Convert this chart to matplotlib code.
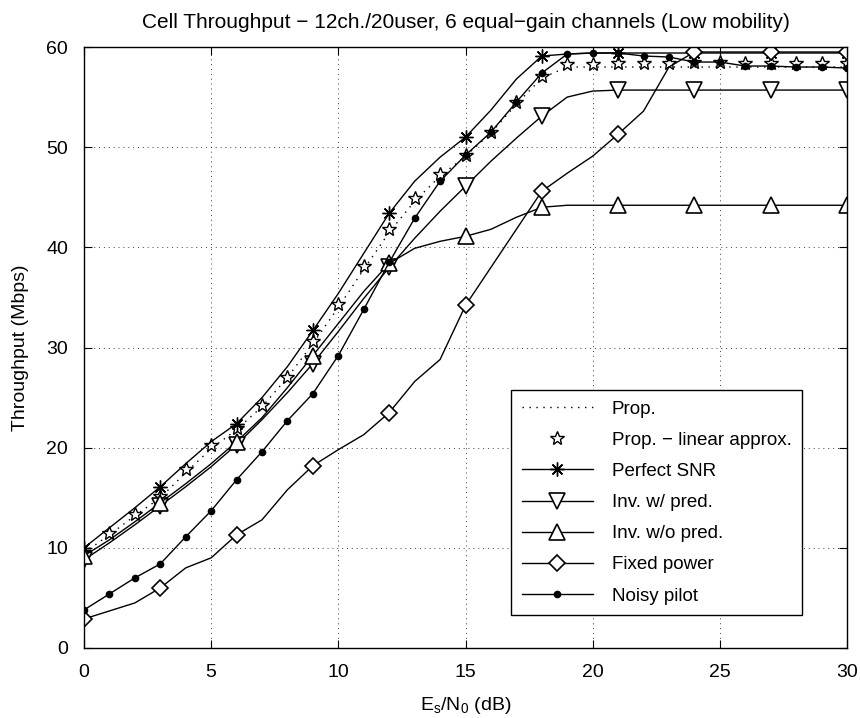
import matplotlib
matplotlib.use("Agg")
import matplotlib.pyplot as plt
import numpy as np

plt.rcParams['font.family'] = ['Liberation Sans', 'DejaVu Sans']
plt.rcParams['mathtext.default'] = 'regular'

snr_db = list(range(0, 31))

prop = [9.5, 11.3, 13.2, 15.0, 17.5, 19.9, 21.8, 24.1, 27.0, 30.4, 34.0, 37.8, 41.5,
        44.6, 47.1, 49.1, 51.4, 54.3, 56.9, 58.0, 58.0, 58.0, 58.0, 58.0, 58.0, 58.0,
        58.0, 58.0, 58.0, 58.0, 58.0]
prop_lin = [9.6, 11.5, 13.4, 15.2, 17.9, 20.3, 22.0, 24.3, 27.1, 30.6, 34.3, 38.1, 41.8,
            44.9, 47.3, 49.2, 51.5, 54.5, 57.1, 58.3, 58.3, 58.4, 58.4, 58.4, 58.5, 58.5,
            58.4, 58.4, 58.4, 58.4, 58.4]
perfect = [10.0, 12.0, 14.0, 16.1, 18.4, 20.6, 22.4, 25.0, 28.1, 31.7, 35.4, 39.4, 43.4,
           46.6, 49.0, 51.0, 53.7, 56.8, 59.1, 59.3, 59.4, 59.4, 59.4, 59.4, 59.4, 59.4,
           59.4, 59.4, 59.4, 59.4, 59.4]
inv_pred = [8.8, 10.5, 12.3, 14.2, 16.1, 18.1, 20.3, 22.8, 25.5, 28.4, 31.6, 34.9, 38.0,
            40.9, 43.6, 46.1, 48.6, 50.9, 53.1, 55.0, 55.6, 55.7, 55.7, 55.7, 55.7, 55.7,
            55.7, 55.7, 55.7, 55.7, 55.7]
inv_nopred = [9.2, 10.8, 12.6, 14.5, 16.4, 18.4, 20.6, 23.0, 26.0, 29.2, 32.4, 35.6, 38.4,
              39.9, 40.6, 41.1, 41.8, 43.0, 44.0, 44.2, 44.2, 44.2, 44.2, 44.2, 44.2, 44.2,
              44.2, 44.2, 44.2, 44.2, 44.2]
fixed = [2.9, 3.7, 4.5, 6.0, 8.0, 9.0, 11.3, 12.8, 15.8, 18.2, 19.8, 21.3, 23.5,
         26.6, 28.8, 34.2, 38.0, 41.8, 45.6, 47.4, 49.1, 51.3, 53.6, 58.0, 59.5, 59.5,
         59.5, 59.5, 59.5, 59.5, 59.5]
noisy = [3.8, 5.4, 7.0, 8.4, 11.1, 13.7, 16.8, 19.6, 22.7, 25.4, 29.2, 33.8, 38.5,
         42.9, 46.6, 49.2, 51.5, 54.5, 57.4, 59.3, 59.4, 59.4, 59.1, 59.0, 58.5, 58.5,
         58.1, 58.1, 58.0, 58.0, 57.9]

x_ticks = [0, 5, 10, 15, 20, 25, 30]
y_ticks = [0, 10, 20, 30, 40, 50, 60]

fig = plt.figure(figsize=(8.6, 7.18), dpi=100)
ax = fig.add_axes([84/860, 70/718, 763/860, 601/718])

lw = 1.0
asterisk = (8, 2, 0)
ax.plot(snr_db, prop, color='k', lw=lw, linestyle=(0, (1, 4)), label='Prop.')
ax.plot(snr_db, prop_lin, color='k', lw=0, marker='*', ms=10, mfc='white', mec='k',
        mew=1.0, label='Prop. \u2212 linear approx.')
ax.plot(snr_db, perfect, color='k', lw=lw, marker=asterisk, ms=10, mew=1.0,
        markevery=3, label='Perfect SNR')
ax.plot(snr_db, inv_pred, color='k', lw=lw, marker='v', ms=12, mfc='white', mec='k',
        mew=1.2, markevery=3, label='Inv. w/ pred.')
ax.plot(snr_db, inv_nopred, color='k', lw=lw, marker='^', ms=12, mfc='white', mec='k',
        mew=1.2, markevery=3, label='Inv. w/o pred.')
ax.plot(snr_db, fixed, color='k', lw=lw, marker='D', ms=8, mfc='white', mec='k',
        mew=1.2, markevery=3, label='Fixed power')
ax.plot(snr_db, noisy, color='k', lw=lw, marker='o', ms=4.5, mfc='k', mec='k',
        label='Noisy pilot')

ax.set_xlim(0, 30)
ax.set_ylim(0, 60)
ax.set_xticks(x_ticks)
ax.set_yticks(y_ticks)
ax.tick_params(direction='in', top=True, right=True, labelsize=14, length=6,
               width=0.8, pad=11.5)
ax.grid(True, color='0.25', linestyle=(0, (1, 4)), lw=0.7)
for s in ax.spines.values():
    s.set_linewidth(1.0)

ax.set_title('Cell Throughput \u2212 12ch./20user, 6 equal\u2212gain channels (Low mobility)',
             fontsize=15, pad=14)
ax.set_xlabel('E$_s$/N$_0$ (dB)', fontsize=14, labelpad=10)
ax.set_ylabel('Throughput (Mbps)', fontsize=14, labelpad=12)

leg = ax.legend(loc='lower left', bbox_to_anchor=(0.560, 0.055), fontsize=13.5,
                frameon=True, fancybox=False, edgecolor='k', framealpha=1,
                handlelength=3.8, handletextpad=1.0, labelspacing=0.75,
                borderpad=0.55, borderaxespad=0)
leg.get_frame().set_linewidth(1.0)

fig.savefig('out.png', dpi=100)
